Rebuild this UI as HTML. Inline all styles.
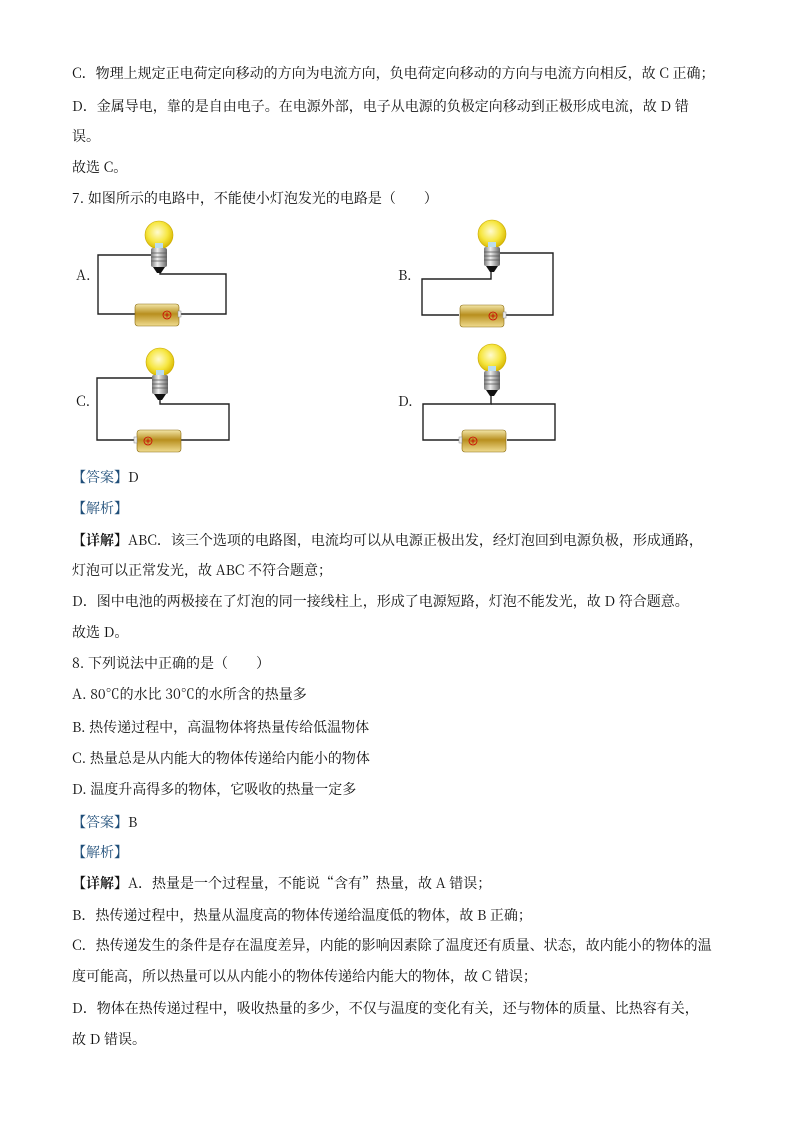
<!DOCTYPE html>
<html><head><meta charset="utf-8"><style>
body{margin:0;background:#fff}
#p{position:relative;width:794px;height:1123px;overflow:hidden;font-family:"Noto Serif CJK SC","Liberation Serif",serif;font-size:14px;color:#111}
.l{position:absolute;left:72px;white-space:nowrap;line-height:20px}
.b{color:#1f4e79}
svg{position:absolute;left:0;top:0}
</style></head><body><div id="p">
<div class="l" style="top:63px">C．物理上规定正电荷定向移动的方向为电流方向，负电荷定向移动的方向与电流方向相反，故 C 正确；</div>
<div class="l" style="top:96px">D．金属导电，靠的是自由电子。在电源外部，电子从电源的负极定向移动到正极形成电流，故 D 错</div>
<div class="l" style="top:126px">误。</div>
<div class="l" style="top:157px">故选 C。</div>
<div class="l" style="top:188px">7. 如图所示的电路中，不能使小灯泡发光的电路是（　　）</div>
<div class="l" style="top:265px;left:76px">A.</div>
<div class="l" style="top:265px;left:398px">B.</div>
<div class="l" style="top:391px;left:76px">C.</div>
<div class="l" style="top:391px;left:398px">D.</div>
<div class="l" style="top:467px"><span class="b">【答案】</span>D</div>
<div class="l" style="top:498px"><span class="b">【解析】</span></div>
<div class="l" style="top:530px"><b>【详解】</b>ABC．该三个选项的电路图，电流均可以从电源正极出发，经灯泡回到电源负极，形成通路，</div>
<div class="l" style="top:560px">灯泡可以正常发光，故 ABC 不符合题意；</div>
<div class="l" style="top:591px">D．图中电池的两极接在了灯泡的同一接线柱上，形成了电源短路，灯泡不能发光，故 D 符合题意。</div>
<div class="l" style="top:622px">故选 D。</div>
<div class="l" style="top:653px">8. 下列说法中正确的是（　　）</div>
<div class="l" style="top:684px">A. 80℃的水比 30℃的水所含的热量多</div>
<div class="l" style="top:717px">B. 热传递过程中，高温物体将热量传给低温物体</div>
<div class="l" style="top:748px">C. 热量总是从内能大的物体传递给内能小的物体</div>
<div class="l" style="top:779px">D. 温度升高得多的物体，它吸收的热量一定多</div>
<div class="l" style="top:812px"><span class="b">【答案】</span>B</div>
<div class="l" style="top:842px"><span class="b">【解析】</span></div>
<div class="l" style="top:873px"><b>【详解】</b>A．热量是一个过程量，不能说“含有”热量，故 A 错误；</div>
<div class="l" style="top:905px">B．热传递过程中，热量从温度高的物体传递给温度低的物体，故 B 正确；</div>
<div class="l" style="top:935px">C．热传递发生的条件是存在温度差异，内能的影响因素除了温度还有质量、状态，故内能小的物体的温</div>
<div class="l" style="top:966px">度可能高，所以热量可以从内能小的物体传递给内能大的物体，故 C 错误；</div>
<div class="l" style="top:998px">D．物体在热传递过程中，吸收热量的多少，不仅与温度的变化有关，还与物体的质量、比热容有关，</div>
<div class="l" style="top:1029px">故 D 错误。</div>

<svg width="794" height="1123" viewBox="0 0 794 1123">
<defs>
<radialGradient id="gy" cx="0.45" cy="0.4" r="0.6"><stop offset="0" stop-color="#fffbd0"/><stop offset="0.6" stop-color="#f6e640"/><stop offset="1" stop-color="#d9b800"/></radialGradient>
<linearGradient id="gs" x1="0" x2="1"><stop offset="0" stop-color="#777"/><stop offset="0.4" stop-color="#eee"/><stop offset="1" stop-color="#666"/></linearGradient>
<linearGradient id="gb" x1="0" y1="0" x2="0" y2="1"><stop offset="0" stop-color="#f3e6a8"/><stop offset="0.45" stop-color="#b88f1e"/><stop offset="1" stop-color="#f0dc90"/></linearGradient>
<g id="bulb">
<circle cx="0" cy="0" r="14" fill="url(#gy)" stroke="#c9a800" stroke-width="0.6"/>
<rect x="-4" y="8" width="8" height="6" fill="#bde" />
<rect x="-8" y="13" width="16" height="19" rx="2" fill="url(#gs)"/>
<path d="M-8 18h16M-8 22h16M-8 26h16" stroke="#555" stroke-width="0.8"/>
<path d="M-6 32 L6 32 L2 38 L-2 38 Z" fill="#111"/>
</g>
<g id="bat">
<rect x="0" y="0" width="44" height="22" rx="3" fill="url(#gb)" stroke="#8a6a10" stroke-width="0.6"/>
</g>
</defs>
<g fill="none" stroke="#222" stroke-width="1.4">
<path d="M152 255H98V314H135"/><path d="M160 273V274H226V314H180"/>
<path d="M152 378H97V440H137"/><path d="M160 395V404H229V440H181"/>
<path d="M500 253H553V315H506"/><path d="M491 272V279H422V315H459"/>
<path d="M491 396V404H423V440H462"/><path d="M491 404H555V440H507"/>
</g>
<use href="#bulb" transform="translate(159,235)"/>
<use href="#bulb" transform="translate(160,362)"/>
<use href="#bulb" transform="translate(492,234)"/>
<use href="#bulb" transform="translate(492,358)"/>
<use href="#bat" transform="translate(135,304)"/><rect x="178" y="311" width="3" height="6" fill="#eee" stroke="#888" stroke-width="0.5"/>
<circle cx="167" cy="315" r="4" fill="none" stroke="#c00" stroke-width="0.8"/><path d="M164.5 315h5M167 312.5v5" stroke="#c00" stroke-width="0.8"/>
<use href="#bat" transform="translate(137,430)"/><rect x="134" y="437" width="3" height="6" fill="#eee" stroke="#888" stroke-width="0.5"/>
<circle cx="148" cy="441" r="4" fill="none" stroke="#c00" stroke-width="0.8"/><path d="M145.5 441h5M148 438.5v5" stroke="#c00" stroke-width="0.8"/>
<use href="#bat" transform="translate(460,305)"/><rect x="503" y="312" width="3" height="6" fill="#eee" stroke="#888" stroke-width="0.5"/>
<circle cx="493" cy="316" r="4" fill="none" stroke="#c00" stroke-width="0.8"/><path d="M490.5 316h5M493 313.5v5" stroke="#c00" stroke-width="0.8"/>
<use href="#bat" transform="translate(462,430)"/><rect x="459" y="437" width="3" height="6" fill="#eee" stroke="#888" stroke-width="0.5"/>
<circle cx="473" cy="441" r="4" fill="none" stroke="#c00" stroke-width="0.8"/><path d="M470.5 441h5M473 438.5v5" stroke="#c00" stroke-width="0.8"/>
</svg>
</div></body></html>
